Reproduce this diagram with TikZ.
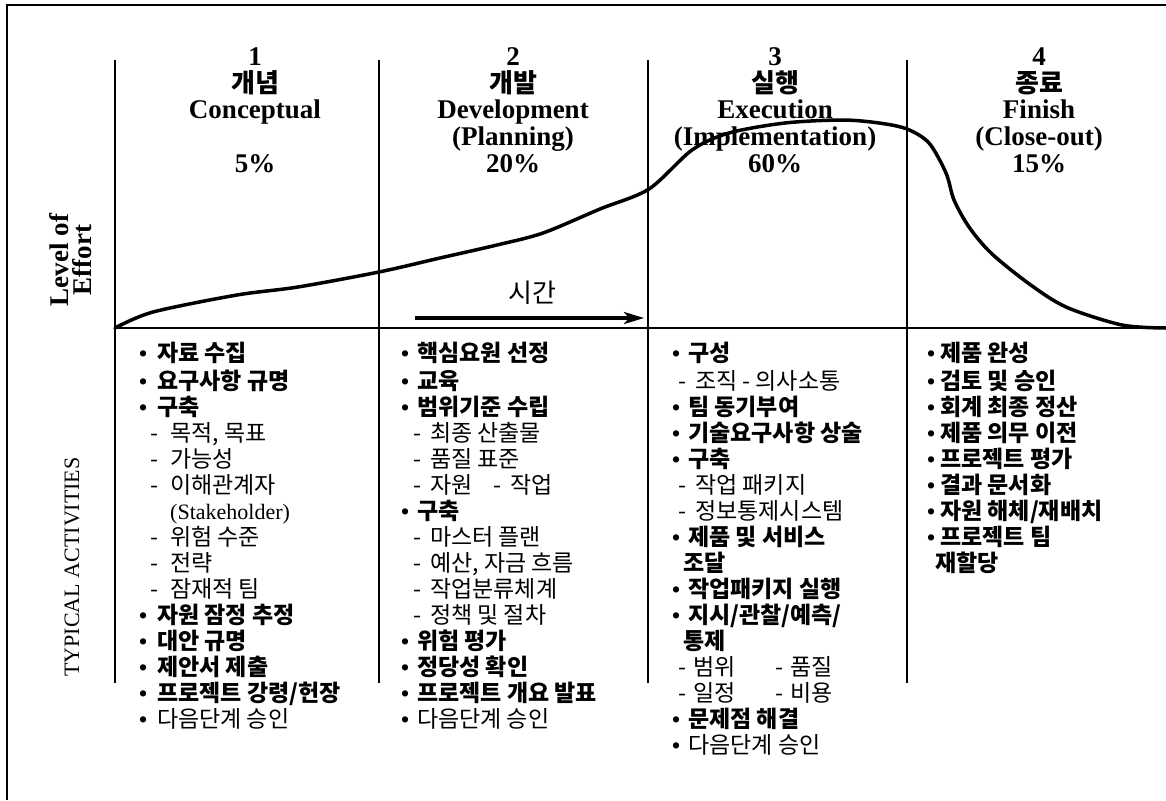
\documentclass[tikz,border=0pt]{standalone}
\usepackage{fontspec}
\setmainfont{Liberation Serif}
\newfontfamily\tnr{Liberation Serif}
\newfontfamily\cjk{Noto Sans CJK KR}
\usetikzlibrary{arrows.meta}
\newcommand{\Bul}[2]{\makebox[#1pt][l]{\tnr\bfseries\textbullet}{\bfseries #2}}
\newcommand{\Reg}[2]{\makebox[#1pt][l]{\tnr\bfseries\textbullet}#2}
\newcommand{\Dsh}[3]{\hspace*{#1pt}\makebox[#2pt][l]{-}#3}
\tikzset{
  frame/.style={line width=1.8pt},
  divider/.style={line width=1.5pt},
  axis/.style={line width=2.2pt},
  effort/.style={line width=3.5pt, line join=round, line cap=round},
  hnum/.style={anchor=base, inner sep=0pt, font=\bfseries\fontsize{27}{27}\selectfont},
  hkor/.style={anchor=base, inner sep=0pt, font=\cjk\bfseries\fontsize{26}{27}\selectfont},
  heng/.style={anchor=base, inner sep=0pt, font=\bfseries\fontsize{27}{27}\selectfont},
  col/.style={anchor=north west, inner sep=0pt, align=left, font=\cjk\fontsize{23}{26}\selectfont},
}
\begin{document}
\begin{tikzpicture}[x=1pt,y=-1pt]
\useasboundingbox (0,0) rectangle (1166,800);
\fill[white] (0,0) rectangle (1166,800);
% frame
\coordinate (fTL) at (7,5);
\coordinate (fTR) at (1166,5);
\coordinate (fBL) at (7,800);
\draw[frame] (fTR) -- (fTL) -- (fBL);
% dividers
\foreach \n/\x in {a/115,b/379,c/648,d/907}{
  \coordinate (\n top) at (\x,60);
  \coordinate (\n bot) at (\x,683);
  \draw[divider] (\n top) -- (\n bot);
}
\coordinate (axL) at (115,328);
\coordinate (axR) at (1166,328);
\draw[axis] (axL) -- (axR);
% headings
\node[hnum] (h1n) at (255,65) {1};
\node[hkor] (h1k) at (255,92) {개념};
\node[heng] (h1e) at (255,118) {Conceptual};
\node[heng] (h1q) at (255,172) {5\%};
\node[hnum] (h2n) at (513,65) {2};
\node[hkor] (h2k) at (513,92) {개발};
\node[heng] (h2e) at (513,118) {Development};
\node[heng] (h2p) at (513,145) {(Planning)};
\node[heng] (h2q) at (513,172) {20\%};
\node[hnum] (h3n) at (775,65) {3};
\node[hkor] (h3k) at (775,92) {실행};
\node[heng] (h3e) at (775,118) {Execution};
\node[heng] (h3p) at (775,145) {(Implementation)};
\node[heng] (h3q) at (775,172) {60\%};
\node[hnum] (h4n) at (1039,65) {4};
\node[hkor] (h4k) at (1039,92) {종료};
\node[heng] (h4e) at (1039,118) {Finish};
\node[heng] (h4p) at (1039,145) {(Close-out)};
\node[heng] (h4q) at (1039,172) {15\%};
% side labels
\node[rotate=90, align=center, inner sep=0pt, font=\bfseries\fontsize{27}{23}\selectfont] (loe) at (71,260) {Level of\\Effort};
\node[rotate=90, inner sep=0pt, font=\fontsize{22}{22}\selectfont] (ta) at (72,567) {TYPICAL ACTIVITIES};
% effort curve
\draw[effort] plot[smooth, tension=0.5] coordinates {(115,328) (153,312) (237,295) (298,287) (379,272) (440,258) (497,245) (543,233) (600,209) (649,189) (692,150) (729,133) (785,123) (842,120) (879,123) (907,129) (929,143) (946,173) (954,200) (969,227) (991,253) (1028,283) (1066,307) (1122,325) (1166,328)};
% time arrow
\coordinate (arS) at (415,318);
\coordinate (arE) at (644,318);
\draw[line width=3.2pt, -{Stealth[length=20pt,width=12pt,inset=5pt]}] (arS) -- (arE);
\node[inner sep=0pt, font=\cjk\fontsize{26}{26}\selectfont] (time) at (532,293) {시간};
% activities
\node[col] (act1) at (139,342) {\strut\Bul{18}{자료 수집}\\
\Bul{18}{요구사항 규명}\\
\Bul{18}{구축}\\
\Dsh{11}{20}{목적, 목표}\\
\Dsh{11}{20}{가능성}\\
\Dsh{11}{20}{이해관계자}\\
\hspace*{31pt}{\tnr\fontsize{22}{26}\selectfont (Stakeholder)}\\
\Dsh{11}{20}{위험 수준}\\
\Dsh{11}{20}{전략}\\
\Dsh{11}{20}{잠재적 팀}\\
\Bul{18}{자원 잠정 추정}\\
\Bul{18}{대안 규명}\\
\Bul{18}{제안서 제출}\\
\Bul{18}{프로젝트 강령/헌장}\\
\Reg{18}{다음단계 승인}};
\node[col] (act2) at (401,342) {\strut\Bul{16}{핵심요원 선정}\\
\Bul{16}{교육}\\
\Bul{16}{범위기준 수립}\\
\Dsh{12}{17}{최종 산출물}\\
\Dsh{12}{17}{품질 표준}\\
\Dsh{12}{17}{\makebox[63pt][l]{자원}\makebox[17pt][l]{-}작업}\\
\Bul{16}{구축}\\
\Dsh{12}{17}{마스터 플랜}\\
\Dsh{12}{17}{예산, 자금 흐름}\\
\Dsh{12}{17}{작업분류체계}\\
\Dsh{12}{17}{정책 및 절차}\\
\Bul{16}{위험 평가}\\
\Bul{16}{정당성 확인}\\
\Bul{16}{프로젝트 개요 발표}\\
\Reg{16}{다음단계 승인}};
\node[col] (act3) at (672,342) {\strut\Bul{16}{구성}\\
\Dsh{6}{17}{조직 - 의사소통}\\
\Bul{16}{팀 동기부여}\\
\Bul{16}{기술요구사항 상술}\\
\Bul{16}{구축}\\
\Dsh{6}{17}{작업 패키지}\\
\Dsh{6}{17}{정보통제시스템}\\
\Bul{16}{제품 및 서비스}\\
\hspace*{11pt}{\bfseries 조달}\\
\Bul{16}{작업패키지 실행}\\
\Bul{16}{지시/관찰/예측/}\\
\hspace*{11pt}{\bfseries 통제}\\
\Dsh{6}{15}{\makebox[82pt][l]{범위}\makebox[15pt][l]{-}품질}\\
\Dsh{6}{15}{\makebox[82pt][l]{일정}\makebox[15pt][l]{-}비용}\\
\Bul{16}{문제점 해결}\\
\Reg{16}{다음단계 승인}};
\node[col] (act4) at (927,342) {\strut\Bul{13}{제품 완성}\\
\Bul{13}{검토 및 승인}\\
\Bul{13}{회계 최종 정산}\\
\Bul{13}{제품 의무 이전}\\
\Bul{13}{프로젝트 평가}\\
\Bul{13}{결과 문서화}\\
\Bul{13}{자원 해체/재배치}\\
\Bul{13}{프로젝트 팀}\\
\hspace*{8pt}{\bfseries 재할당}};
\end{tikzpicture}
\end{document}
